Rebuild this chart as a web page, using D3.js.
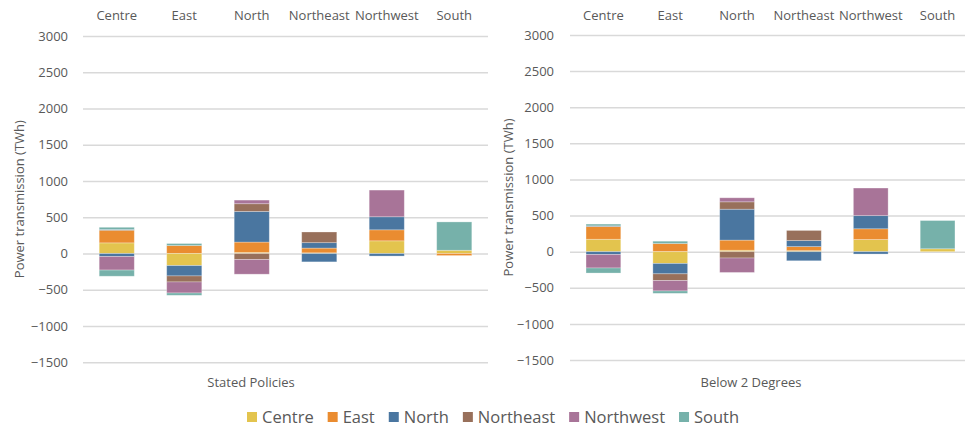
<!DOCTYPE html>
<html>
<head>
<meta charset="utf-8">
<script src="https://cdn.jsdelivr.net/npm/d3@7"></script>
<style>
  html, body { margin: 0; padding: 0; background: #fff; }
  svg { display: block; font-family: "Open Sans", sans-serif; }
</style>
</head>
<body>
<svg id="chart" width="965" height="429"></svg>
<script>
// ---------------- DATA ----------------
const categories = ["Centre", "East", "North", "Northeast", "Northwest", "South"];
const seriesNames = ["Centre", "East", "North", "Northeast", "Northwest", "South"];
const seriesColors = ["#E3C44E", "#EA8C30", "#4A76A0", "#98705B", "#A87498", "#76B1AA"];
const yTicks = [-1500, -1000, -500, 0, 500, 1000, 1500, 2000, 2500, 3000];
const scenarioNames = ["Stated Policies", "Below 2 Degrees"];

// rows = series (Centre..South), columns = categories (Centre..South), TWh
const statedPositive = [
  [147,   0,  15,  10, 175,  45],
  [175, 110, 143,  65, 152,   0],
  [ 10,   0, 423,  75, 180,   0],
  [  0,   0, 106, 147,   0,   0],
  [  0,   0,  50,   0, 368,   0],
  [ 30,  28,   0,   0,   0, 391]
];
const statedNegative = [
  [   0, -166,    0,    0,   0,   0],
  [   0,    0,    0,    0,   0, -28],
  [ -42, -143,    0, -115, -35,   0],
  [   0,  -83,  -83,    0,   0,   0],
  [-186, -152, -202,    0,   0,   0],
  [ -85,  -32,    0,    0,   0,   0]
];
const below2Positive = [
  [172,   0,  20,  14, 168,  40],
  [177, 112, 140,  56, 149,   0],
  [  8,   0, 428,  84, 182,   0],
  [  0,   0, 102, 140,   0,   0],
  [  0,   0,  56,   0, 382,   0],
  [ 25,  33,   0,   0,   0, 391]
];
const below2Negative = [
  [   0, -163,    0,    0,   0,   0],
  [   0,    0,    0,    0,   0,   0],
  [ -40, -144,    0, -126, -33,   0],
  [   0,  -93,  -88,    0,   0,   0],
  [-186, -144, -200,    0,   0,   0],
  [ -70,  -33,    0,    0,   0,   0]
];

// ---------------- LAYOUT ----------------
const svg = d3.select("#chart");
const textColor = "#595959";
const gridColor = "#D9D9D9";

const panels = [
  { title: scenarioNames[0], pos: statedPositive, neg: statedNegative,
    x0: 83, x1: 488, yTop: 36, yBot: 362.3, tickX: 68, axisTitleX: 19, titleX: 251 },
  { title: scenarioNames[1], pos: below2Positive, neg: below2Negative,
    x0: 570, x1: 971, yTop: 35, yBot: 360, tickX: 554, axisTitleX: 508, titleX: 751 }
];

function buildStack(matrix) {
  const rows = categories.map((c, ci) => {
    const r = { category: c };
    seriesNames.forEach((s, si) => { r[s] = matrix[si][ci]; });
    return r;
  });
  return d3.stack().keys(seriesNames).offset(d3.stackOffsetDiverging)(rows);
}

panels.forEach(p => {
  const g = svg.append("g");
  const x = d3.scaleBand().domain(categories).range([p.x0, p.x1]).paddingInner(0.48).paddingOuter(0.24);
  const y = d3.scaleLinear().domain([-1500, 3000]).range([p.yBot, p.yTop]);

  // gridlines + tick labels
  const yAxis = d3.axisLeft(y).tickValues(yTicks).tickSize(-(p.x1 - p.x0)).tickFormat(d3.format("d"));
  const ga = g.append("g").attr("transform", `translate(${p.x0},0)`).call(yAxis);
  ga.select(".domain").remove();
  ga.selectAll(".tick line").attr("stroke", gridColor).attr("stroke-width", 1.5);
  ga.selectAll(".tick text")
    .attr("x", p.tickX - p.x0)
    .attr("fill", textColor)
    .attr("font-size", 13)
    .attr("font-family", "Open Sans, sans-serif");

  // stacked bars: positive then negative
  [p.pos, p.neg].forEach(matrix => {
    const stacked = buildStack(matrix);
    g.append("g").selectAll("g")
      .data(stacked)
      .join("g")
      .attr("fill", (d, i) => seriesColors[i])
      .selectAll("rect")
      .data(d => d.filter(e => e[1] - e[0] !== 0))
      .join("rect")
      .attr("x", d => x(d.data.category))
      .attr("width", x.bandwidth())
      .attr("y", d => y(Math.max(d[0], d[1])))
      .attr("height", d => Math.abs(y(d[0]) - y(d[1])))
      .attr("stroke", "rgba(255,255,255,0.35)")
      .attr("stroke-width", 0.8);
  });

  // category labels on top
  const xAxis = d3.axisTop(x).tickSize(0).tickPadding(0);
  const gx = g.append("g").attr("transform", `translate(0,20)`).call(xAxis);
  gx.select(".domain").remove();
  gx.selectAll(".tick text")
    .attr("fill", textColor)
    .attr("font-size", 13)
    .attr("font-family", "Open Sans, sans-serif")
    .attr("dy", 0)
    .attr("y", 0);

  // y axis title
  g.append("text")
    .attr("transform", `translate(${p.axisTitleX},${(p.yTop + p.yBot) / 2}) rotate(-90)`)
    .attr("text-anchor", "middle")
    .attr("dy", "0.35em")
    .attr("fill", textColor)
    .attr("font-size", 13)
    .text("Power transmission (TWh)");

  // scenario title
  g.append("text")
    .attr("x", p.titleX)
    .attr("y", 387)
    .attr("text-anchor", "middle")
    .attr("fill", textColor)
    .attr("font-size", 13)
    .text(p.title);
});

// legend (flowing layout)
const lg = svg.append("g");
let lx = 247;
seriesNames.forEach((s, i) => {
  lg.append("rect")
    .attr("x", lx).attr("y", 412)
    .attr("width", 10).attr("height", 10)
    .attr("fill", seriesColors[i]);
  const t = lg.append("text")
    .attr("x", lx + 15).attr("y", 423)
    .attr("fill", textColor)
    .attr("font-size", 16.5)
    .text(s);
  lx += 15 + t.node().getComputedTextLength() + 14;
});
</script>
</body>
</html>
